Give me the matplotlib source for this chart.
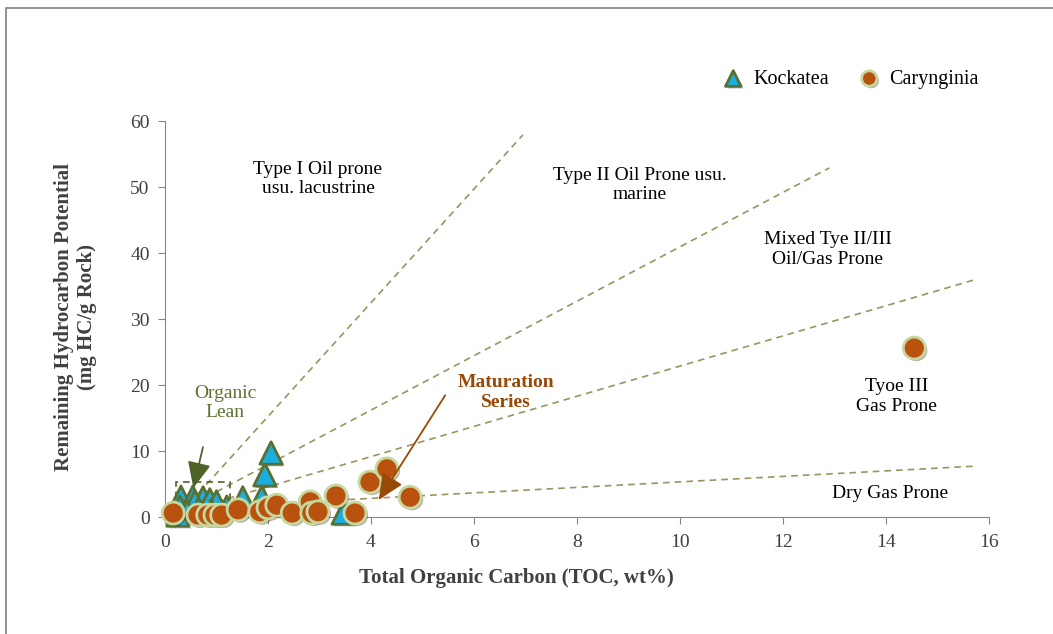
import matplotlib
matplotlib.use('Agg')
import matplotlib.pyplot as plt
import matplotlib.patheffects as pe
from matplotlib.lines import Line2D
from matplotlib.patches import Rectangle

plt.rcParams['font.family'] = ['Liberation Serif', 'DejaVu Serif']

# TOC (wt%) vs S2 (mg HC/g rock)
kockatea_toc = [0.31, 0.54, 0.74, 0.87, 1.0, 1.2, 1.51, 1.88, 1.94, 2.06, 0.29, 0.58, 0.43, 3.46, 0.25, 0.65, 0.9]
kockatea_s2 = [3.0, 3.0, 2.9, 2.6, 2.3, 1.5, 2.9, 3.0, 6.4, 9.7, 1.5, 2.3, 0.8, 0.6, 0.3, 1.2, 1.0]

caryng_toc = [0.16, 0.64, 0.83, 0.97, 1.1, 1.42, 1.84, 2.0, 2.17, 2.47, 2.82, 2.85, 2.97, 3.32, 3.69, 3.98, 4.31, 4.76, 14.55]
caryng_s2 = [0.6, 0.3, 0.3, 0.3, 0.3, 1.1, 0.8, 1.4, 1.8, 0.6, 2.3, 0.6, 0.8, 3.2, 0.6, 5.3, 7.3, 3.0, 25.6]

# kerogen type boundaries (start, end)
boundary_x = [(0.65, 6.95), (0.8, 12.9), (1.0, 15.7), (1.3, 15.7)]
boundary_y = [(3.6, 57.9), (3.0, 52.9), (2.3, 35.9), (1.7, 7.7)]

zone_labels = ['Type I Oil prone\nusu. lacustrine', 'Type II Oil Prone usu.\nmarine',
               'Mixed Tye II/III\nOil/Gas Prone', 'Tyoe III\nGas Prone', 'Dry Gas Prone']
zone_x = [2.97, 9.22, 12.87, 14.2, 14.08]
zone_y = [51.2, 50.3, 40.5, 18.3, 3.5]

fig = plt.figure(figsize=(10.53, 6.34), dpi=100)
ax = fig.add_axes([0.1567, 0.1845, 0.7825, 0.6246])

shadow = [pe.SimplePatchShadow(offset=(1.5, -1.5), alpha=0.35), pe.Normal()]

for (x0, x1), (y0, y1) in zip(boundary_x, boundary_y):
    ax.plot([x0, x1], [y0, y1], ls=(0, (4, 3)), color='#9b9362', lw=1.2, zorder=1)

# organic lean box
ax.add_patch(Rectangle((0.21, 0.2), 1.05, 5.1, fill=False, ls=(0, (4, 3)),
                       ec='#4f6228', lw=1.2, zorder=1))

ax.scatter(kockatea_toc, kockatea_s2, marker='^', s=260, c='#1aaee0',
           edgecolors='#5a7030', linewidths=2, zorder=3, path_effects=shadow,
           clip_on=False, label='Kockatea')
ax.scatter(caryng_toc, caryng_s2, marker='o', s=250, c='#b9520f',
           edgecolors='#c6d89e', linewidths=2, zorder=4, path_effects=shadow,
           clip_on=False, label='Carynginia')

for txt, x, y in zip(zone_labels, zone_x, zone_y):
    ax.text(x, y, txt, ha='center', va='center', fontsize=14, color='black')

ax.text(1.17, 17.3, 'Organic\nLean', ha='center', va='center', fontsize=14, color='#5c7131')
ax.annotate('', xy=(0.55, 4.4), xytext=(0.75, 11.0), zorder=5,
            arrowprops=dict(arrowstyle='-|>,head_length=1.0,head_width=0.45',
                            mutation_scale=16, color='#4f6228', lw=1.3, shrinkB=0))

ax.text(6.62, 18.9, 'Maturation\nSeries', ha='center', va='center', fontsize=14,
        color='#984807', fontweight='bold')
ax.annotate('', xy=(4.15, 2.6), xytext=(5.47, 18.8), zorder=5,
            arrowprops=dict(arrowstyle='-|>,head_length=1.0,head_width=0.45',
                            mutation_scale=16, color='#984807', lw=1.3, shrinkB=0))

ax.set_xlim(0, 16)
ax.set_ylim(0, 60)
ax.set_xticks(range(0, 17, 2))
ax.set_yticks(range(0, 61, 10))
ax.spines['top'].set_visible(False)
ax.spines['right'].set_visible(False)
for s in ['left', 'bottom']:
    ax.spines[s].set_color('#868686')
ax.tick_params(colors='#868686', labelcolor='#404040', labelsize=14, length=5, direction='out')
ax.tick_params(axis='x', pad=7)
ax.tick_params(axis='y', pad=6)

ax.set_xlabel('Total Organic Carbon (TOC, wt%)', fontsize=15, fontweight='bold', color='#404040')
ax.xaxis.set_label_coords(0.427, -0.154)
ax.xaxis.label.set_verticalalignment('center')
ax.set_ylabel('Remaining Hydrocarbon Potential\n(mg HC/g Rock)', fontsize=15, fontweight='bold',
              color='#404040')
ax.yaxis.set_label_coords(-0.109, 0.505)
ax.yaxis.label.set_verticalalignment('center')

fig.legend(loc='center left', bbox_to_anchor=(0.66, 0.875), ncol=2, frameon=False,
           fontsize=14.5, markerscale=0.7, handletextpad=0.0, columnspacing=1.0)

# outer border
fig.add_artist(Line2D([0.0057, 0.0057, 1.0], [0.0, 0.987, 0.987], transform=fig.transFigure,
                      color='#7f7f7f', lw=1.2))

plt.savefig('out.png', dpi=100)
plt.close()
